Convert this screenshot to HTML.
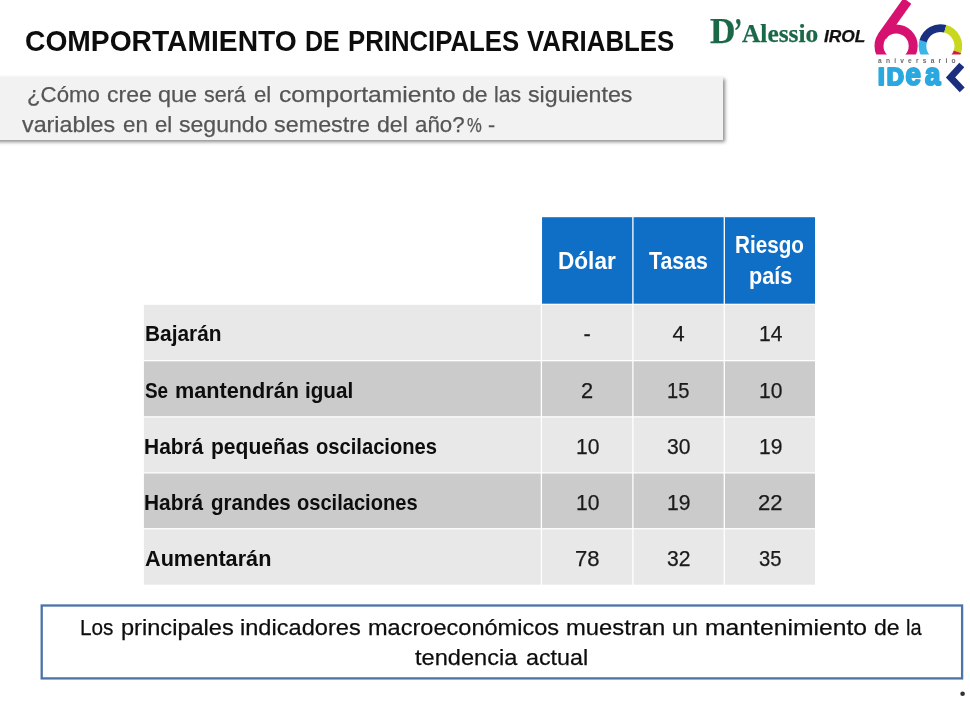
<!DOCTYPE html>
<html lang="es">
<head>
<meta charset="utf-8">
<title>Comportamiento de principales variables</title>
<style>
html,body{margin:0;padding:0;background:#fff;}
body{width:970px;height:703px;position:relative;overflow:hidden;font-family:"Liberation Sans",sans-serif;}
.t{position:absolute;white-space:pre;transform-origin:0 0;display:block;-webkit-text-stroke:0.25px currentColor;}
.b{-webkit-text-stroke:0;}
.box{position:absolute;}
#qbox{left:-6px;top:76.5px;width:729px;height:63.2px;background:#f2f2f2;box-shadow:2px 2px 3.5px rgba(0,0,0,.45);}
svg{position:absolute;left:0;top:0;}
</style>
</head>
<body>
<div class="box" id="qbox"></div>
<svg width="970" height="703" viewBox="0 0 970 703">
<!--TABLE-->
<rect x="542.05" y="217.2" width="90.20" height="86.5" fill="#0f6fc6"/>
<rect x="633.55" y="217.2" width="90.10" height="86.5" fill="#0f6fc6"/>
<rect x="724.95" y="217.2" width="90.05" height="86.5" fill="#0f6fc6"/>
<rect x="143.90" y="304.80" width="396.85" height="55.20" fill="#e8e8e8"/>
<rect x="542.05" y="304.80" width="90.20" height="55.20" fill="#e8e8e8"/>
<rect x="633.55" y="304.80" width="90.10" height="55.20" fill="#e8e8e8"/>
<rect x="724.95" y="304.80" width="90.05" height="55.20" fill="#e8e8e8"/>
<rect x="143.90" y="361.30" width="396.85" height="54.90" fill="#cbcbcb"/>
<rect x="542.05" y="361.30" width="90.20" height="54.90" fill="#cbcbcb"/>
<rect x="633.55" y="361.30" width="90.10" height="54.90" fill="#cbcbcb"/>
<rect x="724.95" y="361.30" width="90.05" height="54.90" fill="#cbcbcb"/>
<rect x="143.90" y="417.50" width="396.85" height="54.80" fill="#e8e8e8"/>
<rect x="542.05" y="417.50" width="90.20" height="54.80" fill="#e8e8e8"/>
<rect x="633.55" y="417.50" width="90.10" height="54.80" fill="#e8e8e8"/>
<rect x="724.95" y="417.50" width="90.05" height="54.80" fill="#e8e8e8"/>
<rect x="143.90" y="473.50" width="396.85" height="54.60" fill="#cbcbcb"/>
<rect x="542.05" y="473.50" width="90.20" height="54.60" fill="#cbcbcb"/>
<rect x="633.55" y="473.50" width="90.10" height="54.60" fill="#cbcbcb"/>
<rect x="724.95" y="473.50" width="90.05" height="54.60" fill="#cbcbcb"/>
<rect x="143.90" y="529.40" width="396.85" height="55.30" fill="#e8e8e8"/>
<rect x="542.05" y="529.40" width="90.20" height="55.30" fill="#e8e8e8"/>
<rect x="633.55" y="529.40" width="90.10" height="55.30" fill="#e8e8e8"/>
<rect x="724.95" y="529.40" width="90.05" height="55.30" fill="#e8e8e8"/>
<rect x="41.7" y="605.5" width="920.4" height="72.9" fill="#fff" stroke="#4a73a8" stroke-width="2.3"/>
<circle cx="962.6" cy="693.7" r="2.3" fill="#333"/>
<!--LOGO-->
<defs><clipPath id="cut"><rect x="860" y="-10" width="110" height="64.6"/></clipPath></defs>
<g clip-path="url(#cut)">
<circle cx="896.1" cy="46" r="17.1" fill="none" stroke="#d6116f" stroke-width="9"/>
<path d="M882.2 36.2 L907.4 0.9" fill="none" stroke="#d6116f" stroke-width="9.6"/>
<path d="M931.45 61.50 A17.90 17.90 0 0 1 923.28 40.77" fill="none" stroke="#3db4e6" stroke-width="7.7"/>
<path d="M923.19 41.07 A17.90 17.90 0 0 1 945.33 28.79" fill="none" stroke="#18307f" stroke-width="7.7"/>
<path d="M945.18 28.75 A17.90 17.90 0 0 1 957.32 51.83" fill="none" stroke="#c9d81e" stroke-width="7.7"/>
<path d="M957.37 51.68 A17.90 17.90 0 0 1 949.35 61.50" fill="none" stroke="#cf1f45" stroke-width="7.7"/>
</g>
<text x="878" y="62.6" font-family="'Liberation Sans',sans-serif" font-size="6.6" font-weight="700" fill="#6a6a6a" textLength="77.5" lengthAdjust="spacing">aniversario</text>
<text y="84.5" font-family="'Liberation Sans',sans-serif" font-weight="700" fill="#2aa8df" stroke="#2aa8df" stroke-width="2.2" stroke-linejoin="round"><tspan x="878.0 886.8" font-size="23.8">ID</tspan><tspan x="905.6 924.9" font-size="30.65" textLength="30.7" lengthAdjust="spacingAndGlyphs">ea</tspan></text>
<path d="M961.8 65 L950.5 77.4 L962.2 89.8" fill="none" stroke="#1b2f7e" stroke-width="6.8" stroke-linejoin="miter"/>
</svg>
<span class="t b" style="left:25.23px;top:26.60px;font:normal 700 29.1px/1 'Liberation Sans', sans-serif;color:#0d0d0d;transform:scaleX(0.9699)">COMPORTAMIENTO</span>
<span class="t b" style="left:304.91px;top:26.60px;font:normal 700 29.1px/1 'Liberation Sans', sans-serif;color:#0d0d0d;transform:scaleX(0.8603)">DE</span>
<span class="t b" style="left:348.25px;top:26.60px;font:normal 700 29.1px/1 'Liberation Sans', sans-serif;color:#0d0d0d;transform:scaleX(0.8844)">PRINCIPALES</span>
<span class="t b" style="left:527.00px;top:26.60px;font:normal 700 29.1px/1 'Liberation Sans', sans-serif;color:#0d0d0d;transform:scaleX(0.8874)">VARIABLES</span>
<span class="t" style="left:27.22px;top:83.00px;font:normal 400 22.8px/1 'Liberation Sans', sans-serif;color:#555555;transform:scaleX(0.9756)">¿Cómo</span>
<span class="t" style="left:106.79px;top:83.00px;font:normal 400 22.8px/1 'Liberation Sans', sans-serif;color:#555555;transform:scaleX(1.0097)">cree</span>
<span class="t" style="left:158.20px;top:83.00px;font:normal 400 22.8px/1 'Liberation Sans', sans-serif;color:#555555;transform:scaleX(1.0296)">que</span>
<span class="t" style="left:203.98px;top:83.00px;font:normal 400 22.8px/1 'Liberation Sans', sans-serif;color:#555555;transform:scaleX(0.9399)">será</span>
<span class="t" style="left:254.09px;top:83.00px;font:normal 400 22.8px/1 'Liberation Sans', sans-serif;color:#555555;transform:scaleX(0.9707)">el</span>
<span class="t" style="left:278.68px;top:83.00px;font:normal 400 22.8px/1 'Liberation Sans', sans-serif;color:#555555;transform:scaleX(1.0811)">comportamiento</span>
<span class="t" style="left:461.96px;top:83.00px;font:normal 400 22.8px/1 'Liberation Sans', sans-serif;color:#555555;transform:scaleX(1.0092)">de</span>
<span class="t" style="left:494.29px;top:83.00px;font:normal 400 22.8px/1 'Liberation Sans', sans-serif;color:#555555;transform:scaleX(0.9285)">las</span>
<span class="t" style="left:528.39px;top:83.00px;font:normal 400 22.8px/1 'Liberation Sans', sans-serif;color:#555555;transform:scaleX(1.0172)">siguientes</span>
<span class="t" style="left:22.30px;top:113.10px;font:normal 400 22.8px/1 'Liberation Sans', sans-serif;color:#555555;transform:scaleX(1.0216)">variables</span>
<span class="t" style="left:122.50px;top:113.10px;font:normal 400 22.8px/1 'Liberation Sans', sans-serif;color:#555555;transform:scaleX(0.9792)">en</span>
<span class="t" style="left:154.69px;top:113.10px;font:normal 400 22.8px/1 'Liberation Sans', sans-serif;color:#555555;transform:scaleX(0.9698)">el</span>
<span class="t" style="left:179.26px;top:113.10px;font:normal 400 22.8px/1 'Liberation Sans', sans-serif;color:#555555;transform:scaleX(1.0114)">segundo</span>
<span class="t" style="left:274.34px;top:113.10px;font:normal 400 22.8px/1 'Liberation Sans', sans-serif;color:#555555;transform:scaleX(1.0246)">semestre</span>
<span class="t" style="left:377.02px;top:113.10px;font:normal 400 22.8px/1 'Liberation Sans', sans-serif;color:#555555;transform:scaleX(1.0123)">del</span>
<span class="t" style="left:415.38px;top:113.10px;font:normal 400 22.8px/1 'Liberation Sans', sans-serif;color:#555555;transform:scaleX(0.9797)">año?</span>
<span class="t" style="left:80.29px;top:615.80px;font:normal 400 22.8px/1 'Liberation Sans', sans-serif;color:#0d0d0d;transform:scaleX(0.9110)">Los</span>
<span class="t" style="left:120.56px;top:615.80px;font:normal 400 22.8px/1 'Liberation Sans', sans-serif;color:#0d0d0d;transform:scaleX(1.0349)">principales</span>
<span class="t" style="left:239.82px;top:615.80px;font:normal 400 22.8px/1 'Liberation Sans', sans-serif;color:#0d0d0d;transform:scaleX(1.0354)">indicadores</span>
<span class="t" style="left:367.54px;top:615.80px;font:normal 400 22.8px/1 'Liberation Sans', sans-serif;color:#0d0d0d;transform:scaleX(1.0329)">macroeconómicos</span>
<span class="t" style="left:565.59px;top:615.80px;font:normal 400 22.8px/1 'Liberation Sans', sans-serif;color:#0d0d0d;transform:scaleX(1.0440)">muestran</span>
<span class="t" style="left:671.89px;top:615.80px;font:normal 400 22.8px/1 'Liberation Sans', sans-serif;color:#0d0d0d;transform:scaleX(1.0197)">un</span>
<span class="t" style="left:705.05px;top:615.80px;font:normal 400 22.8px/1 'Liberation Sans', sans-serif;color:#0d0d0d;transform:scaleX(1.0837)">mantenimiento</span>
<span class="t" style="left:873.67px;top:615.80px;font:normal 400 22.8px/1 'Liberation Sans', sans-serif;color:#0d0d0d;transform:scaleX(1.0098)">de</span>
<span class="t" style="left:906.06px;top:615.80px;font:normal 400 22.8px/1 'Liberation Sans', sans-serif;color:#0d0d0d;transform:scaleX(0.8766)">la</span>
<span class="t" style="left:415.40px;top:645.50px;font:normal 400 22.8px/1 'Liberation Sans', sans-serif;color:#0d0d0d;transform:scaleX(1.0347)">tendencia</span>
<span class="t" style="left:526.44px;top:645.50px;font:normal 400 22.8px/1 'Liberation Sans', sans-serif;color:#0d0d0d;transform:scaleX(1.0217)">actual</span>
<span class="t b" style="left:145.30px;top:379.70px;font:normal 700 21.9px/1 'Liberation Sans', sans-serif;color:#0d0d0d;transform:scaleX(0.8619)">Se</span>
<span class="t b" style="left:174.76px;top:379.70px;font:normal 700 21.9px/1 'Liberation Sans', sans-serif;color:#0d0d0d;transform:scaleX(0.9905)">mantendrán</span>
<span class="t b" style="left:305.15px;top:379.70px;font:normal 700 21.9px/1 'Liberation Sans', sans-serif;color:#0d0d0d;transform:scaleX(0.9431)">igual</span>
<span class="t b" style="left:144.04px;top:435.70px;font:normal 700 21.9px/1 'Liberation Sans', sans-serif;color:#0d0d0d;transform:scaleX(0.9568)">Habrá</span>
<span class="t b" style="left:211.31px;top:435.70px;font:normal 700 21.9px/1 'Liberation Sans', sans-serif;color:#0d0d0d;transform:scaleX(0.9621)">pequeñas</span>
<span class="t b" style="left:316.19px;top:435.70px;font:normal 700 21.9px/1 'Liberation Sans', sans-serif;color:#0d0d0d;transform:scaleX(0.9206)">oscilaciones</span>
<span class="t b" style="left:144.05px;top:491.80px;font:normal 700 21.9px/1 'Liberation Sans', sans-serif;color:#0d0d0d;transform:scaleX(0.9536)">Habrá</span>
<span class="t b" style="left:211.08px;top:491.80px;font:normal 700 21.9px/1 'Liberation Sans', sans-serif;color:#0d0d0d;transform:scaleX(0.9366)">grandes</span>
<span class="t b" style="left:297.39px;top:491.80px;font:normal 700 21.9px/1 'Liberation Sans', sans-serif;color:#0d0d0d;transform:scaleX(0.9175)">oscilaciones</span>
<span class="t" style="left:466.80px;top:116.30px;font:normal 400 19.5px/1 'Liberation Sans', sans-serif;color:#555555;transform:scaleX(0.8529)">%</span>
<span class="t" style="left:487.90px;top:115.30px;font:normal 400 20px/1 'Liberation Sans', sans-serif;color:#555555;transform:scaleX(1.0667)">-</span>
<span class="t b" style="left:558.21px;top:249.60px;font:normal 700 23.0px/1 'Liberation Sans', sans-serif;color:#fff;transform:scaleX(0.9822)">Dólar</span>
<span class="t b" style="left:649.42px;top:249.60px;font:normal 700 23.0px/1 'Liberation Sans', sans-serif;color:#fff;transform:scaleX(0.9272)">Tasas</span>
<span class="t b" style="left:735.26px;top:234.30px;font:normal 700 23.0px/1 'Liberation Sans', sans-serif;color:#fff;transform:scaleX(0.8981)">Riesgo</span>
<span class="t b" style="left:748.63px;top:264.60px;font:normal 700 23.0px/1 'Liberation Sans', sans-serif;color:#fff;transform:scaleX(0.9418)">país</span>
<span class="t b" style="left:144.65px;top:323.20px;font:normal 700 21.9px/1 'Liberation Sans', sans-serif;color:#0d0d0d;transform:scaleX(0.9527)">Bajarán</span>
<span class="t b" style="left:145.00px;top:547.90px;font:normal 700 21.9px/1 'Liberation Sans', sans-serif;color:#0d0d0d;transform:scaleX(0.9894)">Aumentarán</span>
<span class="t" style="left:583.42px;top:323.20px;font:normal 400 21.8px/1 'Liberation Sans', sans-serif;color:#1a1a1a;transform:scaleX(1.0000)">-</span>
<span class="t" style="left:672.42px;top:323.20px;font:normal 400 21.8px/1 'Liberation Sans', sans-serif;color:#1a1a1a;transform:scaleX(1.0000)">4</span>
<span class="t" style="left:758.67px;top:323.20px;font:normal 400 21.8px/1 'Liberation Sans', sans-serif;color:#1a1a1a;transform:scaleX(0.9671)">14</span>
<span class="t" style="left:580.97px;top:379.70px;font:normal 400 21.8px/1 'Liberation Sans', sans-serif;color:#1a1a1a;transform:scaleX(1.0000)">2</span>
<span class="t" style="left:667.31px;top:379.70px;font:normal 400 21.8px/1 'Liberation Sans', sans-serif;color:#1a1a1a;transform:scaleX(0.9239)">15</span>
<span class="t" style="left:758.67px;top:379.70px;font:normal 400 21.8px/1 'Liberation Sans', sans-serif;color:#1a1a1a;transform:scaleX(0.9671)">10</span>
<span class="t" style="left:575.82px;top:435.70px;font:normal 400 21.8px/1 'Liberation Sans', sans-serif;color:#1a1a1a;transform:scaleX(0.9671)">10</span>
<span class="t" style="left:667.24px;top:435.70px;font:normal 400 21.8px/1 'Liberation Sans', sans-serif;color:#1a1a1a;transform:scaleX(0.9685)">30</span>
<span class="t" style="left:758.67px;top:435.70px;font:normal 400 21.8px/1 'Liberation Sans', sans-serif;color:#1a1a1a;transform:scaleX(0.9671)">19</span>
<span class="t" style="left:575.82px;top:491.80px;font:normal 400 21.8px/1 'Liberation Sans', sans-serif;color:#1a1a1a;transform:scaleX(0.9671)">10</span>
<span class="t" style="left:667.27px;top:491.80px;font:normal 400 21.8px/1 'Liberation Sans', sans-serif;color:#1a1a1a;transform:scaleX(0.9671)">19</span>
<span class="t" style="left:757.63px;top:491.80px;font:normal 400 21.8px/1 'Liberation Sans', sans-serif;color:#1a1a1a;transform:scaleX(1.0104)">22</span>
<span class="t" style="left:574.78px;top:547.90px;font:normal 400 21.8px/1 'Liberation Sans', sans-serif;color:#1a1a1a;transform:scaleX(1.0104)">78</span>
<span class="t" style="left:667.24px;top:547.90px;font:normal 400 21.8px/1 'Liberation Sans', sans-serif;color:#1a1a1a;transform:scaleX(0.9685)">32</span>
<span class="t" style="left:758.64px;top:547.90px;font:normal 400 21.8px/1 'Liberation Sans', sans-serif;color:#1a1a1a;transform:scaleX(0.9270)">35</span>
<span class="t" style="left:709.60px;top:13.60px;font:normal 700 35px/1 'Liberation Serif', serif;color:#1a6847;transform:scaleX(1.0083)">D</span>
<span class="t" style="left:733.60px;top:13.60px;font:normal 700 35px/1 'Liberation Serif', serif;color:#1a6847;transform:scaleX(0.7000)">’</span>
<span class="t" style="left:741.60px;top:21.30px;font:normal 700 26px/1 'Liberation Serif', serif;color:#1a6847;transform:scaleX(0.9769)">Alessio</span>
<span class="t" style="left:824.30px;top:28.40px;font:italic 700 16.3px/1 'Liberation Sans', sans-serif;color:#111;transform:scaleX(1.0647)">IROL</span>
</body>
</html>
